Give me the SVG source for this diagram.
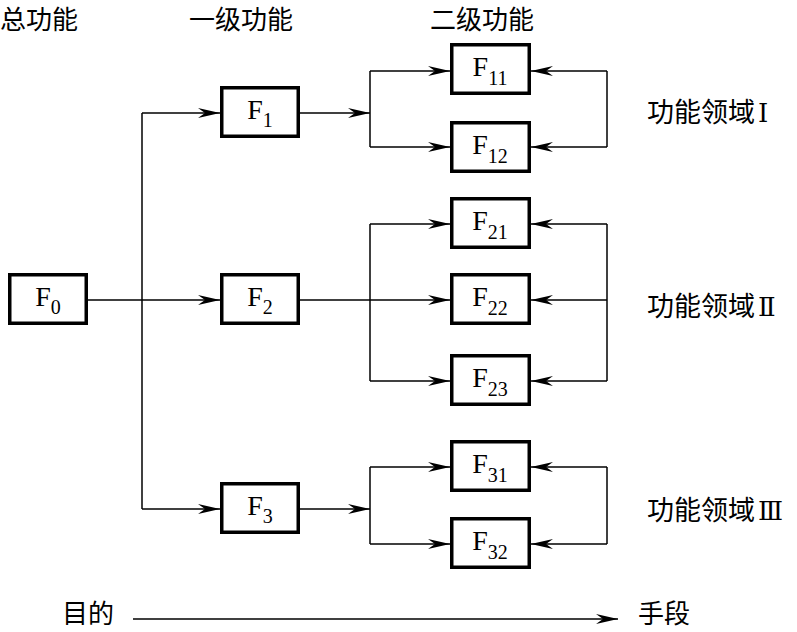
<svg xmlns="http://www.w3.org/2000/svg" width="797" height="632" viewBox="0 0 797 632">
<style>
  .box { fill: #fff; stroke: #000; stroke-width: 3.5; }
  .ln { fill: none; stroke: #000; stroke-width: 1.5; }
  .arr { marker-end: url(#ah); }
  .f { font-family: "Liberation Serif", "Times New Roman", serif; font-size: 28px; fill: #000; text-anchor: middle; }
  .sub { font-size: 20px; }
  .cn { font-family: "Noto Sans CJK SC", "Noto Sans", sans-serif; font-size: 27px; fill: #000; }
  .hd { font-size: 26px; }
  .rn { font-family: "DejaVu Serif", "Liberation Serif", serif; font-size: 26px; }
</style>
<defs>
  <marker id="ah" viewBox="-22 -6 23 12" refX="0" refY="0" markerWidth="23" markerHeight="12" markerUnits="userSpaceOnUse" orient="auto">
    <path d="M0,0 L-22,-5 L-15,0 L-22,5 Z" fill="#000"/>
  </marker>
</defs>
<rect width="797" height="632" fill="#fff"/>

<g id="connectors">
  <path class="ln" d="M88,300 H142"/>
  <path class="ln" d="M142,113 V509"/>
  <path class="ln arr" d="M142,113 H220"/>
  <path class="ln arr" d="M142,300 H220"/>
  <path class="ln arr" d="M142,509 H220"/>
  <path class="ln arr" d="M300,113 H370"/>
  <path class="ln" d="M370,71 V147"/>
  <path class="ln arr" d="M370,71 H450"/>
  <path class="ln arr" d="M370,147 H450"/>
  <path class="ln" d="M607,71 V147"/>
  <path class="ln arr" d="M607,71 H531"/>
  <path class="ln arr" d="M607,147 H531"/>
  <path class="ln arr" d="M300,300 H450"/>
  <path class="ln" d="M370,224 V381"/>
  <path class="ln arr" d="M370,224 H450"/>
  <path class="ln arr" d="M370,381 H450"/>
  <path class="ln" d="M607,224 V381"/>
  <path class="ln arr" d="M607,224 H531"/>
  <path class="ln arr" d="M607,300 H531"/>
  <path class="ln arr" d="M607,381 H531"/>
  <path class="ln arr" d="M300,509 H370"/>
  <path class="ln" d="M370,467 V544"/>
  <path class="ln arr" d="M370,467 H450"/>
  <path class="ln arr" d="M370,544 H450"/>
  <path class="ln" d="M607,467 V544"/>
  <path class="ln arr" d="M607,467 H531"/>
  <path class="ln arr" d="M607,544 H531"/>
  <path class="ln arr" d="M133,619 H618"/>
</g>

<g id="F0"><rect class="box" x="9.75" y="274.75" width="76.5" height="48.5"/><text class="f" x="48" y="306">F<tspan class="sub" dy="8">0</tspan></text></g>
<g id="F1"><rect class="box" x="221.75" y="87.75" width="76.5" height="48.5"/><text class="f" x="260" y="119">F<tspan class="sub" dy="8">1</tspan></text></g>
<g id="F2"><rect class="box" x="221.75" y="274.75" width="76.5" height="48.5"/><text class="f" x="260" y="306">F<tspan class="sub" dy="8">2</tspan></text></g>
<g id="F3"><rect class="box" x="221.75" y="483.75" width="76.5" height="48.5"/><text class="f" x="260" y="515">F<tspan class="sub" dy="8">3</tspan></text></g>

<g id="F11"><rect class="box" x="451.75" y="44.75" width="77.5" height="48.5"/><text class="f" x="490" y="76">F<tspan class="sub" dy="9">11</tspan></text></g>
<g id="F12"><rect class="box" x="451.75" y="122.75" width="77.5" height="48.5"/><text class="f" x="490" y="154">F<tspan class="sub" dy="9">12</tspan></text></g>
<g id="F21"><rect class="box" x="451.75" y="198.75" width="77.5" height="48.5"/><text class="f" x="490" y="230">F<tspan class="sub" dy="9">21</tspan></text></g>
<g id="F22"><rect class="box" x="451.75" y="274.75" width="77.5" height="48.5"/><text class="f" x="490" y="306">F<tspan class="sub" dy="9">22</tspan></text></g>
<g id="F23"><rect class="box" x="451.75" y="355.75" width="77.5" height="48.5"/><text class="f" x="490" y="387">F<tspan class="sub" dy="9">23</tspan></text></g>
<g id="F31"><rect class="box" x="451.75" y="441.75" width="77.5" height="48.5"/><text class="f" x="490" y="473">F<tspan class="sub" dy="9">31</tspan></text></g>
<g id="F32"><rect class="box" x="451.75" y="518.75" width="77.5" height="48.5"/><text class="f" x="490" y="550">F<tspan class="sub" dy="9">32</tspan></text></g>

<g id="labels">
  <text class="cn hd" x="0" y="29">总功能</text>
  <text class="cn hd" x="189" y="29">一级功能</text>
  <text class="cn hd" x="430" y="29">二级功能</text>
  <text class="cn" x="647" y="122">功能领域<tspan class="rn" dx="3">Ⅰ</tspan></text>
  <text class="cn" x="647" y="316">功能领域<tspan class="rn" dx="3">Ⅱ</tspan></text>
  <text class="cn" x="647" y="520">功能领域<tspan class="rn" dx="3">Ⅲ</tspan></text>
  <text class="cn hd" x="62" y="623">目的</text>
  <text class="cn hd" x="638" y="623">手段</text>
</g>
</svg>
